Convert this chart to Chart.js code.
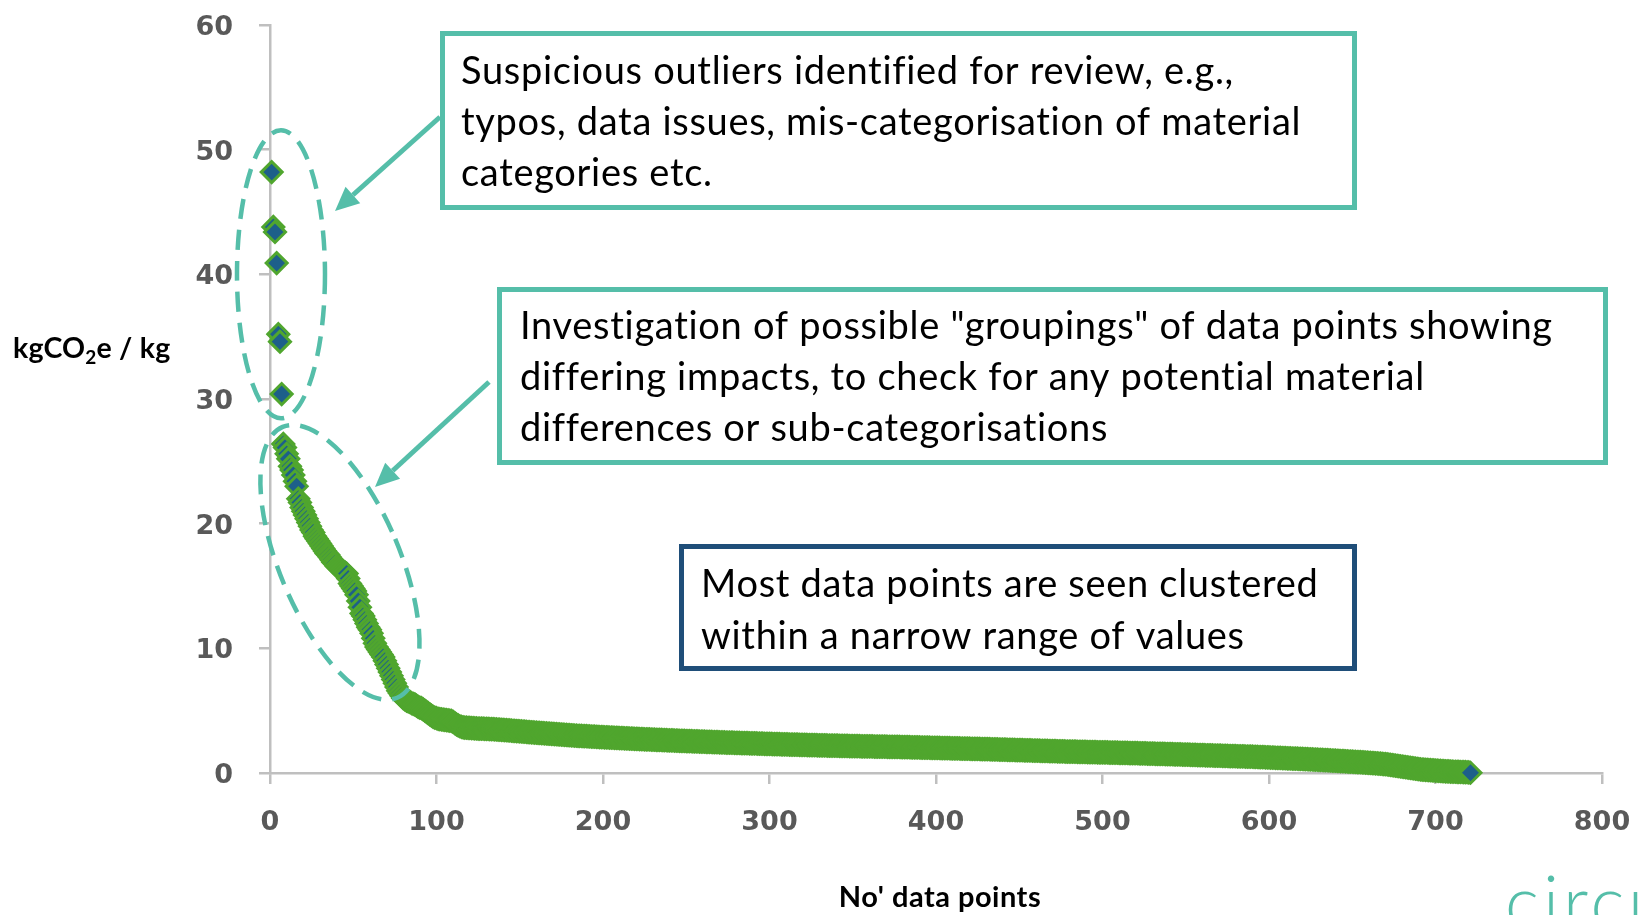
<!DOCTYPE html>
<html>
<head>
<meta charset="utf-8">
<script src="https://cdn.jsdelivr.net/npm/chart.js@4.4.1/dist/chart.umd.min.js"></script>
<style>
  html, body { margin: 0; padding: 0; background: #fff; }
</style>
</head>
<body>
<canvas id="chart" width="1641" height="915"></canvas>
<script>
// kgCO2e / kg per data point, sorted from highest to lowest
const outliers = [48.2, 43.8, 43.4, 40.9, 35.2, 34.6, 30.4]

const groupings = [
  26.4, 26.1, 25.6,
  25.2, 24.6, 24.3, 23.9, 23.4, 23.0, 22.0, 21.7, 21.3, 21.0,
  20.7, 20.4, 20.1, 19.8, 19.5, 19.3, 19.0, 18.8, 18.6, 18.4,
  18.2, 18.0, 17.8, 17.6, 17.5, 17.3, 17.1, 16.9, 16.8, 16.6,
  16.5, 16.4, 16.3, 16.2, 16.1, 16.0, 15.6, 15.2, 15.0, 14.8,
  14.6, 14.3, 13.8, 13.3, 12.8, 12.6, 12.3, 12.0, 11.7, 11.5,
  11.2, 10.8, 10.4, 10.1, 9.9, 9.7, 9.5, 9.3, 9.0, 8.7,
  8.4, 8.1, 7.8, 7.5, 7.2, 6.9, 6.6, 6.4, 6.2, 6.0
]

const cluster = [
  5.9, 5.8, 5.75, 5.7, 5.6, 5.55, 5.5, 5.4, 5.3, 5.25,
  5.2, 5.1, 5.0, 4.9, 4.8, 4.7, 4.6, 4.5, 4.45, 4.4,
  4.35, 4.32, 4.3, 4.28, 4.26, 4.24, 4.22, 4.2, 4.18, 4.1,
  4.0, 3.9, 3.82, 3.75, 3.7, 3.66, 3.64, 3.63, 3.62, 3.61,
  3.6, 3.59, 3.58, 3.57, 3.56, 3.56, 3.55, 3.55, 3.54, 3.54,
  3.53, 3.52, 3.51, 3.51, 3.50, 3.49, 3.48, 3.47, 3.46, 3.45,
  3.44, 3.43, 3.42, 3.41, 3.39, 3.38, 3.37, 3.36, 3.35, 3.34,
  3.33, 3.32, 3.31, 3.30, 3.28, 3.27, 3.26, 3.25, 3.24, 3.23,
  3.22, 3.21, 3.20, 3.19, 3.18, 3.17, 3.16, 3.15, 3.14, 3.13,
  3.12, 3.11, 3.10, 3.09, 3.08, 3.07, 3.06, 3.05, 3.04, 3.03,
  3.02, 3.01, 3.00, 2.99, 2.98, 2.98, 2.97, 2.96, 2.95, 2.95,
  2.94, 2.93, 2.92, 2.92, 2.91, 2.90, 2.89, 2.88, 2.88, 2.87,
  2.86, 2.86, 2.85, 2.84, 2.84, 2.83, 2.82, 2.82, 2.81, 2.80,
  2.80, 2.79, 2.78, 2.78, 2.77, 2.76, 2.76, 2.75, 2.74, 2.74,
  2.73, 2.72, 2.72, 2.71, 2.70, 2.70, 2.69, 2.69, 2.68, 2.68,
  2.67, 2.66, 2.66, 2.65, 2.65, 2.64, 2.64, 2.63, 2.62, 2.62,
  2.61, 2.61, 2.60, 2.60, 2.59, 2.58, 2.58, 2.57, 2.57, 2.56,
  2.56, 2.55, 2.55, 2.54, 2.54, 2.53, 2.53, 2.52, 2.52, 2.51,
  2.51, 2.50, 2.50, 2.49, 2.49, 2.48, 2.48, 2.47, 2.47, 2.46,
  2.46, 2.45, 2.45, 2.44, 2.44, 2.44, 2.43, 2.43, 2.42, 2.42,
  2.41, 2.41, 2.40, 2.40, 2.40, 2.39, 2.39, 2.38, 2.38, 2.37,
  2.37, 2.37, 2.36, 2.36, 2.35, 2.35, 2.34, 2.34, 2.34, 2.33,
  2.33, 2.32, 2.32, 2.32, 2.31, 2.31, 2.30, 2.30, 2.30, 2.29,
  2.29, 2.28, 2.28, 2.28, 2.27, 2.27, 2.27, 2.26, 2.26, 2.25,
  2.25, 2.25, 2.24, 2.24, 2.24, 2.23, 2.23, 2.23, 2.22, 2.22,
  2.22, 2.21, 2.21, 2.21, 2.20, 2.20, 2.20, 2.20, 2.19, 2.19,
  2.19, 2.18, 2.18, 2.18, 2.17, 2.17, 2.17, 2.16, 2.16, 2.16,
  2.16, 2.15, 2.15, 2.15, 2.14, 2.14, 2.14, 2.14, 2.13, 2.13,
  2.13, 2.13, 2.12, 2.12, 2.12, 2.12, 2.11, 2.11, 2.11, 2.11,
  2.10, 2.10, 2.10, 2.10, 2.09, 2.09, 2.09, 2.09, 2.08, 2.08,
  2.08, 2.07, 2.07, 2.07, 2.06, 2.06, 2.06, 2.05, 2.05, 2.05,
  2.04, 2.04, 2.04, 2.03, 2.03, 2.03, 2.02, 2.02, 2.02, 2.01,
  2.01, 2.01, 2.00, 2.00, 2.00, 1.99, 1.99, 1.99, 1.98, 1.98,
  1.98, 1.97, 1.97, 1.97, 1.96, 1.96, 1.96, 1.95, 1.95, 1.95,
  1.94, 1.94, 1.94, 1.93, 1.93, 1.93, 1.92, 1.92, 1.92, 1.91,
  1.91, 1.91, 1.90, 1.90, 1.89, 1.89, 1.89, 1.88, 1.88, 1.88,
  1.87, 1.87, 1.86, 1.86, 1.86, 1.85, 1.85, 1.84, 1.84, 1.84,
  1.83, 1.83, 1.82, 1.82, 1.82, 1.81, 1.81, 1.80, 1.80, 1.80,
  1.79, 1.79, 1.78, 1.78, 1.78, 1.77, 1.77, 1.76, 1.76, 1.76,
  1.75, 1.75, 1.74, 1.74, 1.74, 1.73, 1.73, 1.72, 1.72, 1.72,
  1.72, 1.71, 1.71, 1.71, 1.70, 1.70, 1.70, 1.69, 1.69, 1.69,
  1.68, 1.68, 1.68, 1.67, 1.67, 1.67, 1.66, 1.66, 1.66, 1.66,
  1.65, 1.65, 1.65, 1.64, 1.64, 1.64, 1.63, 1.63, 1.63, 1.62,
  1.62, 1.62, 1.61, 1.61, 1.61, 1.60, 1.60, 1.60, 1.59, 1.59,
  1.59, 1.58, 1.58, 1.57, 1.57, 1.57, 1.56, 1.56, 1.56, 1.55,
  1.55, 1.54, 1.54, 1.54, 1.53, 1.53, 1.53, 1.52, 1.52, 1.51,
  1.51, 1.51, 1.50, 1.50, 1.50, 1.49, 1.49, 1.48, 1.48, 1.48,
  1.47, 1.47, 1.46, 1.46, 1.45, 1.45, 1.44, 1.44, 1.43, 1.43,
  1.43, 1.42, 1.42, 1.41, 1.41, 1.41, 1.40, 1.40, 1.39, 1.39,
  1.39, 1.38, 1.38, 1.37, 1.37, 1.36, 1.36, 1.36, 1.35, 1.35,
  1.34, 1.34, 1.34, 1.33, 1.33, 1.32, 1.32, 1.32, 1.31, 1.31,
  1.30, 1.30, 1.29, 1.28, 1.28, 1.27, 1.27, 1.26, 1.25, 1.25,
  1.24, 1.24, 1.23, 1.22, 1.22, 1.21, 1.21, 1.20, 1.19, 1.19,
  1.18, 1.18, 1.17, 1.16, 1.16, 1.15, 1.15, 1.14, 1.13, 1.13,
  1.12, 1.11, 1.11, 1.10, 1.09, 1.09, 1.08, 1.07, 1.07, 1.06,
  1.05, 1.05, 1.04, 1.03, 1.03, 1.02, 1.01, 1.00, 1.00, 0.99,
  0.98, 0.97, 0.96, 0.96, 0.95, 0.94, 0.93, 0.92, 0.92, 0.91,
  0.90, 0.89, 0.88, 0.88, 0.87, 0.86, 0.85, 0.84, 0.83, 0.82,
  0.81, 0.80, 0.79, 0.78, 0.77, 0.76, 0.75, 0.74, 0.72, 0.71,
  0.69, 0.67, 0.65, 0.63, 0.61, 0.59, 0.57, 0.55, 0.53, 0.51,
  0.49, 0.47, 0.45, 0.43, 0.41, 0.39, 0.37, 0.35, 0.33, 0.31,
  0.29, 0.28, 0.27, 0.26, 0.25, 0.24, 0.23, 0.22, 0.21, 0.20,
  0.19, 0.18, 0.17, 0.16, 0.15, 0.14, 0.13, 0.13, 0.12, 0.11,
  0.10, 0.10, 0.09, 0.09, 0.08, 0.08, 0.07, 0.07, 0.06, 0.05,
  0.02
]

const xTicks = [0, 100, 200, 300, 400, 500, 600, 700, 800]
const yTicks = [0, 10, 20, 30, 40, 50, 60]

const values = outliers.concat(groupings, cluster)
const points = values.map((v, i) => ({ x: i + 1, y: v }))

const TEAL = '#55BEA9'
const NAVY = '#1F4E79'
const AXIS = '#BFBFBF'
const NOTE_FONT = '38px Lato'

function drawArrow(ctx, x1, y1, x2, y2) {
  const a = Math.atan2(y2 - y1, x2 - x1)
  const head = 24, half = 11
  const bx = x2 - head * Math.cos(a)
  const by = y2 - head * Math.sin(a)
  ctx.beginPath()
  ctx.moveTo(x1, y1)
  ctx.lineTo(bx, by)
  ctx.stroke()
  ctx.beginPath()
  ctx.moveTo(x2, y2)
  ctx.lineTo(bx + half * Math.sin(a), by - half * Math.cos(a))
  ctx.lineTo(bx - half * Math.sin(a), by + half * Math.cos(a))
  ctx.closePath()
  ctx.fill()
}

function drawNote(ctx, box, color, lines, textX, firstBaseline, lineGap) {
  const [l, t, r, b] = box
  ctx.fillStyle = '#fff'
  ctx.fillRect(l, t, r - l, b - t)
  ctx.lineWidth = 5
  ctx.strokeStyle = color
  ctx.strokeRect(l + 2.5, t + 2.5, r - l - 5, b - t - 5)
  ctx.fillStyle = '#000'
  ctx.font = NOTE_FONT
  ctx.letterSpacing = '0.7px'
  lines.forEach((line, i) => ctx.fillText(line, textX, firstBaseline + i * lineGap))
  ctx.letterSpacing = '0px'
}

// ellipses, arrows, call-out boxes and axis titles
const notes = {
  id: 'notes',
  afterDatasetsDraw(chart) {
    const { ctx, scales: { x, y } } = chart
    ctx.save()
    ctx.textAlign = 'left'
    ctx.textBaseline = 'alphabetic'

    // dashed rings round the two groups
    ctx.strokeStyle = TEAL
    ctx.lineWidth = 4.5
    ctx.setLineDash([20, 11])
    ctx.beginPath()
    ctx.ellipse(x.getPixelForValue(6.6), y.getPixelForValue(40), 44, 144, 0, 0, Math.PI * 2)
    ctx.stroke()
    ctx.beginPath()
    ctx.ellipse(x.getPixelForValue(42), y.getPixelForValue(16.9), 60, 147, -0.4, 0, Math.PI * 2)
    ctx.stroke()
    ctx.setLineDash([])

    ctx.fillStyle = TEAL
    ctx.lineWidth = 5
    drawArrow(ctx, 440, 117, 335, 211)
    drawArrow(ctx, 489, 382, 375, 487)

    drawNote(ctx, [440, 31, 1357, 210], TEAL, [
      'Suspicious outliers identified for review, e.g.,',
      'typos, data issues, mis-categorisation of material',
      'categories etc.'
    ], 461, 83.5, 51)
    drawNote(ctx, [497, 287, 1608, 465], TEAL, [
      'Investigation of possible "groupings" of data points showing',
      'differing impacts, to check for any potential material',
      'differences or sub-categorisations'
    ], 520, 339, 51)
    drawNote(ctx, [679, 544, 1357, 671], NAVY, [
      'Most data points are seen clustered',
      'within a narrow range of values'
    ], 701, 596.5, 52)

    // axis titles
    ctx.fillStyle = '#000'
    ctx.letterSpacing = '0.2px'
    ctx.font = 'bold 28.5px Lato'
    let tx = 13
    ctx.fillText('kgCO', tx, 358)
    tx += ctx.measureText('kgCO').width
    ctx.font = 'bold 19px Lato'
    ctx.fillText('2', tx, 364)
    tx += ctx.measureText('2').width
    ctx.font = 'bold 28.5px Lato'
    ctx.fillText('e / kg', tx, 358)

    ctx.textAlign = 'center'
    ctx.font = 'bold 29px Lato'
    ctx.letterSpacing = '0.5px'
    ctx.fillText("No' data points", 940, 906.5)

    // logo, cut by the page edge
    ctx.textAlign = 'left'
    ctx.letterSpacing = '4px'
    ctx.fillStyle = TEAL
    ctx.font = '300 72px Lato'
    ctx.fillText('circu', 1505, 928)
    ctx.restore()
  }
}

const tickFont = { family: 'DejaVu Sans', weight: 'bold', size: 27 }

new Chart(document.getElementById('chart'), {
  type: 'scatter',
  data: {
    datasets: [{
      data: points,
      pointStyle: 'rectRot',
      pointRadius: 10.5,
      pointBorderWidth: 3,
      backgroundColor: '#1D5F8A',
      borderColor: '#50A62E',
      clip: false
    }]
  },
  options: {
    responsive: false,
    animation: false,
    events: [],
    layout: { padding: { top: 25, right: 39, left: 0, bottom: 0 } },
    plugins: { legend: { display: false }, tooltip: { enabled: false } },
    scales: {
      x: {
        type: 'linear',
        min: 0,
        max: 800,
        afterBuildTicks: s => { s.ticks = xTicks.map(v => ({ value: v })) },
        afterFit: s => {
          s.height = 142
          s.paddingLeft = 0
          s.paddingRight = 0
        },
        grid: { drawOnChartArea: false, tickLength: 11, color: AXIS, lineWidth: 2.5 },
        border: { color: AXIS, width: 2.5 },
        ticks: { font: tickFont, color: '#595959', padding: 23, maxRotation: 0 }
      },
      y: {
        min: 0,
        max: 60,
        afterBuildTicks: s => { s.ticks = yTicks.map(v => ({ value: v })) },
        afterFit: s => {
          s.width = 270
          s.paddingTop = 0
          s.paddingBottom = 0
        },
        grid: { drawOnChartArea: false, tickLength: 11, color: AXIS, lineWidth: 2.5 },
        border: { color: AXIS, width: 2.5 },
        ticks: { font: tickFont, color: '#595959', padding: 26, labelOffset: 3 }
      }
    }
  },
  plugins: [notes]
})
</script>
</body>
</html>
